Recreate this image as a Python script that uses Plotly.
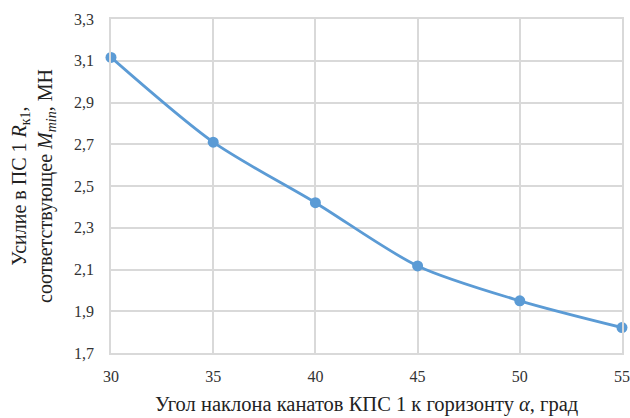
import plotly.graph_objects as go

angles = [30, 35, 40, 45, 50, 55]
force = [3.116, 2.710, 2.420, 2.117, 1.950, 1.822]

y_ticks = [1.7, 1.9, 2.1, 2.3, 2.5, 2.7, 2.9, 3.1, 3.3]
x_ticks = [30, 35, 40, 45, 50, 55]

x_title = "Угол наклона канатов КПС 1 к горизонту <i>α</i>, град"
y_title = "Усилие в ПС 1 <i>R</i><sub>к1</sub>,<br>соответствующее <i>M</i><sub><i>min</i></sub>, МН"

font_family = "Times New Roman, Liberation Serif, serif"
tick_family = "Liberation Serif"
blue = "#5B9BD5"
grid = "#D9D9D9"

fig = go.Figure()
fig.add_trace(go.Scatter(
    x=angles, y=force, mode="lines+markers",
    line=dict(color=blue, width=2.8, shape="spline", smoothing=0.8),
    marker=dict(color=blue, size=11),
    cliponaxis=False,
    showlegend=False,
))

fig.update_layout(
    width=630, height=418,
    margin=dict(l=111, r=8, t=19, b=65, autoexpand=False),
    paper_bgcolor="white", plot_bgcolor="white",
    separators=", ",
    font=dict(family=font_family, size=16, color="#222222"),
    xaxis=dict(
        range=[30, 55], tickvals=x_ticks, ticktext=[str(v) for v in x_ticks],
        showgrid=True, gridcolor=grid, gridwidth=1.5,
        showline=True, linecolor=grid, linewidth=1.5, mirror=True,
        zeroline=False, ticks="outside", ticklen=8, tickcolor="rgba(0,0,0,0)",
        tickfont=dict(size=16, family=tick_family, color="#333333"),
        ticklabeloverflow="allow",
        automargin=False,
    ),
    yaxis=dict(
        range=[1.7, 3.3], tickvals=y_ticks,
        ticktext=[f"{v:.1f}".replace(".", ",") for v in y_ticks],
        showgrid=True, gridcolor=grid, gridwidth=1.5,
        showline=True, linecolor=grid, linewidth=1.5, mirror=True,
        zeroline=False, ticks="outside", ticklen=12, tickcolor="rgba(0,0,0,0)",
        tickfont=dict(size=16, family=tick_family, color="#333333"),
        ticklabeloverflow="allow",
        automargin=False,
    ),
    annotations=[
        dict(text=x_title, xref="paper", yref="paper", x=0.5, y=0,
             xanchor="center", yanchor="middle", yshift=-51, showarrow=False,
             font=dict(size=20.5, family=font_family, color="#222222")),
        dict(text=y_title, xref="paper", yref="paper", x=0, y=0.5,
             xanchor="center", yanchor="middle", xshift=-78, textangle=-90,
             showarrow=False,
             font=dict(size=20, family=font_family, color="#222222")),
    ],
)

fig.write_html("out.html", config={"displayModeBar": False},
               post_script="document.body.style.margin='0';document.body.style.padding='0';")
